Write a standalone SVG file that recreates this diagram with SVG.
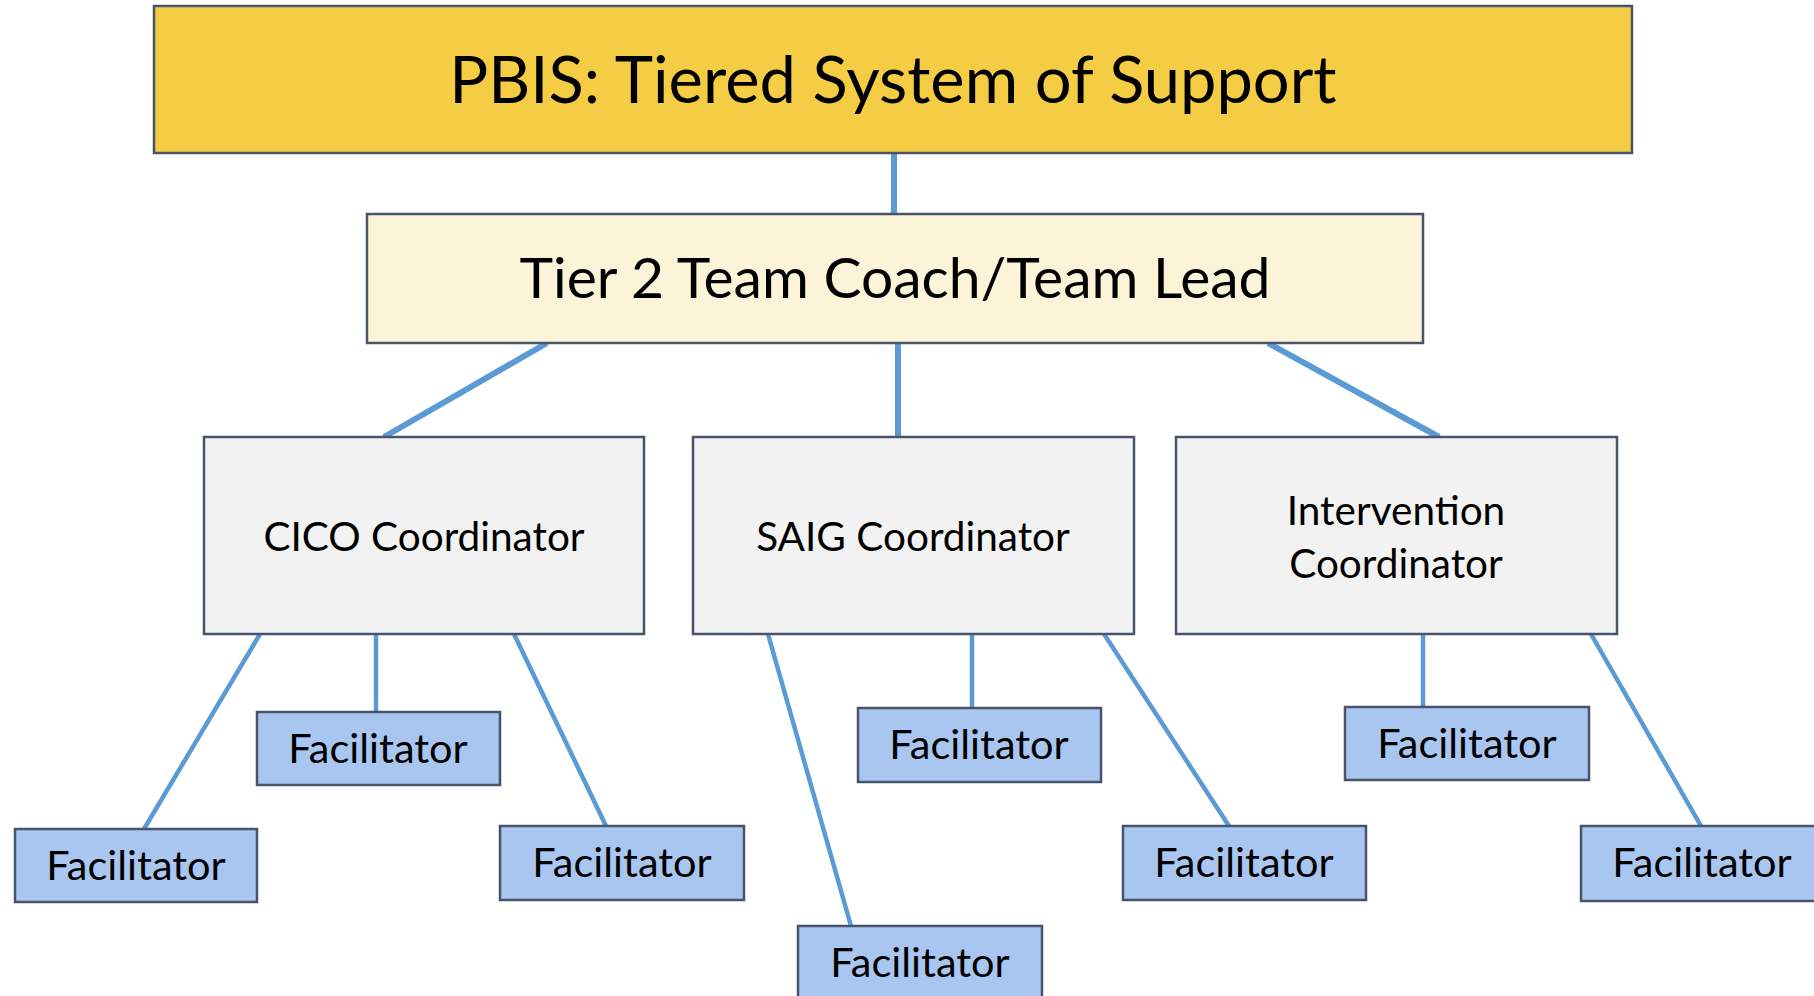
<svg xmlns="http://www.w3.org/2000/svg" width="1814" height="996" viewBox="0 0 1814 996">
<style>
.box{stroke:#47546c;stroke-width:2.5}
.top{fill:#f5cd44}
.lead{fill:#fbf4d8}
.coord{fill:#f2f2f2}
.fac{fill:#a9c6f0}
.t{font-family:Lato,"Open Sans","Liberation Sans",sans-serif;fill:#000;text-anchor:middle}
.tt{font-size:65px}
.tl{font-size:57px}
.tc{font-size:40.5px}
.tf{font-size:41.5px}
.c1{stroke:#5b9bd5;stroke-width:6;fill:none}
.c2{stroke:#5b9bd5;stroke-width:4.5;fill:none}
</style>
<rect width="1814" height="996" fill="#fff"/>
<g id="connectors">
<line class="c1" x1="894" y1="153" x2="894" y2="213"/>
<line class="c1" x1="898" y1="343" x2="898" y2="437"/>
<line class="c1" x1="547" y1="343" x2="384" y2="437"/>
<line class="c1" x1="1268" y1="343" x2="1439" y2="437"/>
<line class="c2" x1="260" y1="634" x2="144" y2="829"/>
<line class="c2" x1="376" y1="634" x2="376" y2="712"/>
<line class="c2" x1="514" y1="634" x2="606" y2="826"/>
<line class="c2" x1="768" y1="634" x2="851" y2="926"/>
<line class="c2" x1="972" y1="634" x2="972" y2="708"/>
<line class="c2" x1="1104" y1="634" x2="1229" y2="826"/>
<line class="c2" x1="1423" y1="634" x2="1423" y2="707"/>
<line class="c2" x1="1591" y1="634" x2="1701" y2="826"/>
</g>
<g id="pbis">
<rect class="box top" x="154" y="6" width="1478" height="147"/>
<text class="t tt" x="893" y="103">PBIS: Tiered System of Support</text>
</g>
<g id="tier2">
<rect class="box lead" x="367" y="214" width="1056" height="129"/>
<text class="t tl" x="895" y="298">Tier 2 Team Coach/Team Lead</text>
</g>
<g id="cico">
<rect class="box coord" x="204" y="437" width="440" height="197"/>
<text class="t tc" x="424" y="551">CICO Coordinator</text>
</g>
<g id="saig">
<rect class="box coord" x="693" y="437" width="441" height="197"/>
<text class="t tc" x="913" y="551">SAIG Coordinator</text>
</g>
<g id="intervention">
<rect class="box coord" x="1176" y="437" width="441" height="197"/>
<text class="t tc" x="1396" y="525">Intervention</text>
<text class="t tc" x="1396" y="578">Coordinator</text>
</g>
<g id="fac1">
<rect class="box fac" x="15" y="829" width="242" height="73"/>
<text class="t tf" x="136" y="880">Facilitator</text>
</g>
<g id="fac2">
<rect class="box fac" x="257" y="712" width="243" height="73"/>
<text class="t tf" x="378" y="763">Facilitator</text>
</g>
<g id="fac3">
<rect class="box fac" x="500" y="826" width="244" height="74"/>
<text class="t tf" x="622" y="877">Facilitator</text>
</g>
<g id="fac4">
<rect class="box fac" x="858" y="708" width="243" height="74"/>
<text class="t tf" x="979" y="759">Facilitator</text>
</g>
<g id="fac5">
<rect class="box fac" x="1123" y="826" width="243" height="74"/>
<text class="t tf" x="1244" y="877">Facilitator</text>
</g>
<g id="fac6">
<rect class="box fac" x="798" y="926" width="244" height="74"/>
<text class="t tf" x="920" y="977">Facilitator</text>
</g>
<g id="fac7">
<rect class="box fac" x="1345" y="707" width="244" height="73"/>
<text class="t tf" x="1467" y="758">Facilitator</text>
</g>
<g id="fac8">
<rect class="box fac" x="1581" y="826" width="243" height="75"/>
<text class="t tf" x="1702" y="877">Facilitator</text>
</g>
</svg>
